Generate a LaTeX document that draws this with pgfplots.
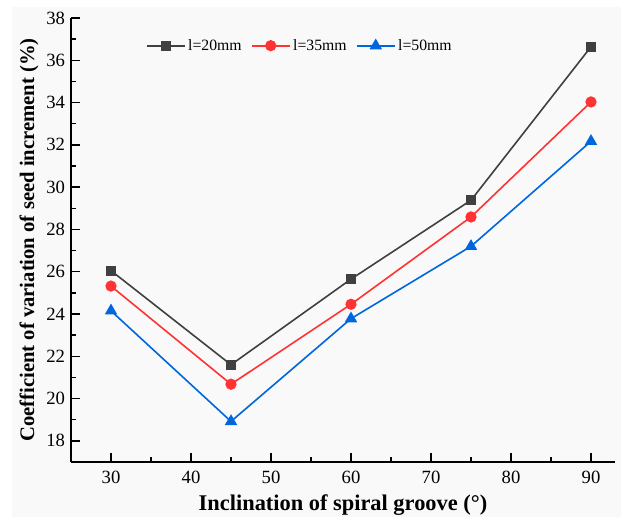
\documentclass[border=0pt]{standalone}
\usepackage{pgfplots}
\pgfplotsset{compat=1.18}
\usepackage{fontspec}
\setmainfont{Liberation Serif}
\definecolor{cgray}{HTML}{404040}
\definecolor{cred}{HTML}{FF3333}
\definecolor{cblue}{HTML}{0066DD}
\definecolor{bg}{HTML}{F9F9F9}
\begin{document}
\begin{tikzpicture}
\fill[white] (-53.25pt,-42pt) rectangle (417pt,346.5pt);
\fill[bg] (-44.25pt,-41.25pt) rectangle (412.5pt,341.25pt);
\path[use as bounding box] (-53.25pt,-42pt) rectangle (417pt,346.5pt);
\begin{axis}[
  at={(0,0)}, anchor=south west,
  scale only axis, width=408pt, height=333pt,
  xmin=25, xmax=93, ymin=17, ymax=38,
  axis x line*=bottom, axis y line*=left,
  axis line style={line width=1.1pt},
  xtick={30,40,...,90}, ytick={18,20,...,38},
  minor x tick num=1, minor y tick num=1,
  major tick length=6.75pt, minor tick length=3.75pt,
  tick style={line width=1.1pt, black},
  tick align=inside,
  /pgf/number format/assume math mode=true,
  ticklabel style={font=\fontsize{14}{16}\selectfont},
  xticklabel style={yshift=-3pt},
  yticklabel style={xshift=-1pt},
  xlabel={\textbf{Inclination of spiral groove (°)}},
  ylabel={\textbf{Coefficient of variation of seed increment (\%)}},
  xlabel style={font=\fontsize{16.8}{18}\selectfont, yshift=-2pt},
  ylabel style={font=\fontsize{15.5}{18}\selectfont, yshift=-1pt},
  legend columns=3,
  legend style={draw=none, fill=none, at={(0.13,0.9376)}, anchor=west,
    font=\fontsize{11.8}{14}\selectfont, /tikz/every even column/.append style={column sep=5pt}},
  legend cell align=left,
  legend image code/.code={\draw[mark repeat=2,mark phase=2] plot coordinates {(0cm,0cm)(0.5cm,0cm)(1cm,0cm)};},
  every axis plot/.append style={line width=1.2pt},
]
\addplot[color=cgray, mark=square*, mark size=3.2pt, mark options={solid}] coordinates {
(30,26.05) (45,21.6) (60,25.65) (75,29.38) (90,36.64)};
\addlegendentry{l=20mm}
\addplot[color=cred, mark=*, mark size=3.6pt] coordinates {
(30,25.32) (45,20.68) (60,24.46) (75,28.59) (90,34.03)};
\addlegendentry{l=35mm}
\addplot[color=cblue, mark=triangle*, mark size=4.2pt] coordinates {
(30,24.15) (45,18.92) (60,23.78) (75,27.2) (90,32.17)};
\addlegendentry{l=50mm}
\end{axis}
\end{tikzpicture}
\end{document}
